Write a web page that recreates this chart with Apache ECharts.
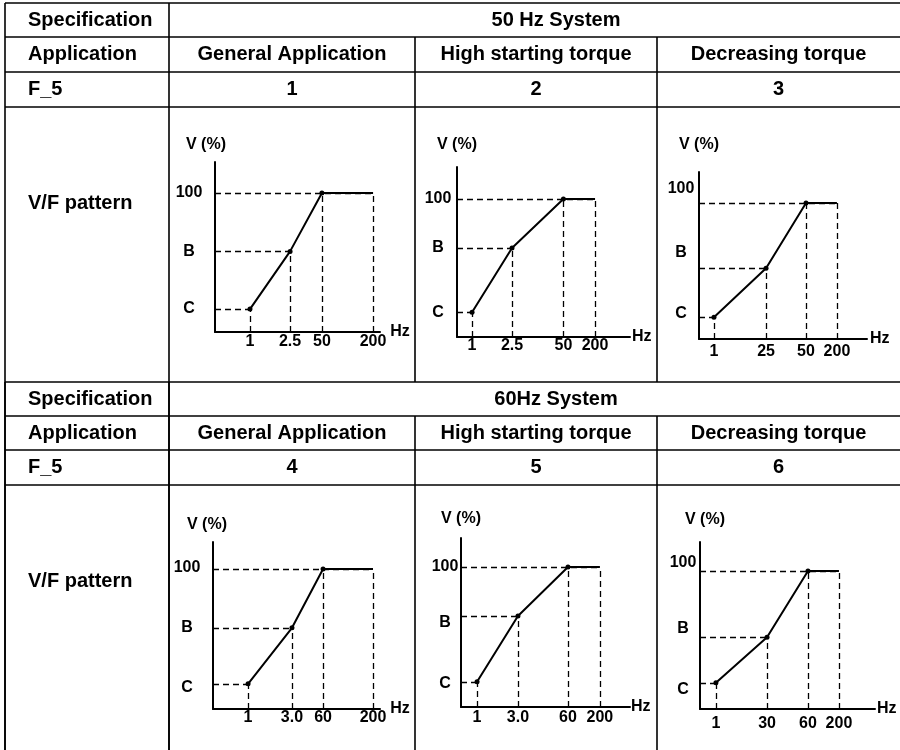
<!DOCTYPE html>
<html>
<head>
<meta charset="utf-8">
<title>V/F pattern table</title>
<script src="https://cdn.jsdelivr.net/npm/echarts@6/dist/echarts.min.js"></script>
<style>
  html, body { margin: 0; padding: 0; background: #fff; }
  #chart { width: 900px; height: 750px; }
</style>
</head>
<body>
<div id="chart"></div>
<script>
// table text
const systems = ['50 Hz System', '60Hz System'];
const applications = ['General Application', 'High starting torque', 'Decreasing torque'];
const rowHeads = ['Specification', 'Application', 'F_5', 'V/F pattern'];
const patternNo = ['1', '2', '3', '4', '5', '6'];

// break frequencies of each pattern (x tick labels)
const freqLabels = [
  ['1', '2.5', '50', '200'],
  ['1', '2.5', '50', '200'],
  ['1', '25', '50', '200'],
  ['1', '3.0', '60', '200'],
  ['1', '3.0', '60', '200'],
  ['1', '30', '60', '200']
];
// where each break sits on the (not to scale) frequency axis, 0..100
const freqAt = [
  [21.2, 45.5, 64.8, 95.8],
  [8.7, 31.8, 61.5, 79.8],
  [8.9, 39.9, 63.7, 82.1],
  [21.0, 47.3, 65.9, 95.8],
  [9.5, 33.7, 63.3, 82.2],
  [9.1, 38.3, 61.7, 79.4]
];
// voltage levels, % of rated
const levelC = [16.5, 18, 16, 18, 18, 19];
const levelB = [58, 64.5, 52, 58, 65, 52];
const levelFull = 100;
const yLabels = ['C', 'B', '100'];

// where each small chart sits inside its table cell
const cells = [
  { left: 215, top: 162, width: 165, height: 170, yMax: 122.3, yMargin: 26, xMargin: 2, nameGap: 9, nameShift: -9, hzGap: 10, lift: [0, 0, 0] },
  { left: 457, top: 167, width: 173, height: 170, yMax: 123.2, yMargin: 19, xMargin: 1, nameGap: 14, nameShift: 0, hzGap: 2, lift: [0, 0, 0] },
  { left: 699, top: 172, width: 168, height: 167, yMax: 122.8, yMargin: 18, xMargin: 5, nameGap: 19, nameShift: 0, hzGap: 3, lift: [4, 16, 14] },
  { left: 213, top: 542, width: 167, height: 167, yMax: 119.3, yMargin: 26, xMargin: 1, nameGap: 9, nameShift: -6, hzGap: 5, lift: [-4, 0, 1] },
  { left: 461, top: 538, width: 169, height: 169, yMax: 120.7, yMargin: 16, xMargin: 3, nameGap: 11, nameShift: 0, hzGap: 1, lift: [-2, -7, 0] },
  { left: 700, top: 542, width: 175, height: 167, yMax: 121.0, yMargin: 17, xMargin: 7, nameGap: 14, nameShift: 5, hzGap: 2, lift: [-7, 9, 8] }
];

const FONT = '"Liberation Sans", Arial, Helvetica, sans-serif';
const black = '#000';

// ---- table frame ----
const graphic = [];
function hLine(y, x1, x2) {
  graphic.push({ type: 'line', shape: { x1: x1, y1: y, x2: x2, y2: y }, style: { stroke: black, lineWidth: 1.6 }, silent: true });
}
function vLine(x, y1, y2) {
  graphic.push({ type: 'line', shape: { x1: x, y1: y1, x2: x, y2: y2 }, style: { stroke: black, lineWidth: 1.6 }, silent: true });
}
function cellText(text, x, y, align) {
  graphic.push({
    type: 'text', x: x, y: y, silent: true,
    style: {
      text: text, fill: black, font: 'bold 20px ' + FONT,
      align: align, verticalAlign: 'middle', textAlign: align, textVerticalAlign: 'middle'
    }
  });
}

const colX = [5, 169, 415, 657];
const colMid = [292, 536, 778.5];
const blocks = [
  { top: 3, r2: 37, r3: 72, r4: 107, end: 750, vfY: 203 },
  { top: 382, r2: 416, r3: 450, r4: 485, end: 750, vfY: 581 }
];
blocks.forEach(function (b, bi) {
  [b.top, b.r2, b.r3, b.r4].forEach(function (y) { hLine(y, colX[0], 900); });
  vLine(colX[0], b.top, b.end);
  vLine(colX[1], b.top, b.end);
  vLine(colX[2], b.r2, bi === 0 ? blocks[1].top : b.end);
  vLine(colX[3], b.r2, bi === 0 ? blocks[1].top : b.end);
  cellText(rowHeads[0], 28, (b.top + b.r2) / 2, 'left');
  cellText(rowHeads[1], 28, (b.r2 + b.r3) / 2, 'left');
  cellText(rowHeads[2], 28, (b.r3 + b.r4) / 2, 'left');
  cellText(rowHeads[3], 28, b.vfY, 'left');
  cellText(systems[bi], 556, (b.top + b.r2) / 2, 'center');
  applications.forEach(function (a, ci) {
    cellText(a, colMid[ci], (b.r2 + b.r3) / 2, 'center');
    cellText(patternNo[bi * 3 + ci], colMid[ci], (b.r3 + b.r4) / 2, 'center');
  });
});

// ---- the six V/F charts ----
const grids = [], xAxes = [], yAxes = [], series = [];
const labelStyle = { color: black, fontSize: 16, fontWeight: 'bold', fontFamily: FONT };

cells.forEach(function (c, i) {
  const volts = [levelC[i], levelB[i], levelFull, levelFull];
  const xs = freqAt[i];
  const last = xs.length - 1;

  grids.push({ left: c.left, top: c.top, width: c.width, height: c.height, containLabel: false });

  const rich = {};
  yLabels.forEach(function (lab, k) {
    const l = c.lift[k];
    rich['k' + k] = Object.assign({}, labelStyle, { padding: l >= 0 ? [0, 0, 2 * l, 0] : [-2 * l, 0, 0, 0] });
  });
  const yVals = [levelC[i], levelB[i], levelFull];

  xAxes.push({
    type: 'value', gridIndex: i, min: 0, max: 100,
    name: 'Hz', nameLocation: 'end', nameGap: c.hzGap,
    nameTextStyle: Object.assign({}, labelStyle, { align: 'left', verticalAlign: 'middle' }),
    axisLine: { show: true, lineStyle: { color: black, width: 2 } },
    axisTick: { show: false },
    splitLine: { show: false },
    axisLabel: Object.assign({}, labelStyle, {
      margin: c.xMargin,
      customValues: xs,
      formatter: function (v) {
        const k = xs.indexOf(v);
        return k >= 0 ? freqLabels[i][k] : '';
      }
    })
  });

  yAxes.push({
    type: 'value', gridIndex: i, min: 0, max: c.yMax,
    name: 'V (%)', nameLocation: 'end', nameGap: c.nameGap,
    nameTextStyle: Object.assign({}, labelStyle, {
      align: 'center', verticalAlign: 'bottom',
      padding: c.nameShift < 0 ? [0, -2 * c.nameShift, 0, 0] : [0, 0, 0, 2 * c.nameShift]
    }),
    axisLine: { show: true, lineStyle: { color: black, width: 2 } },
    axisTick: { show: false },
    splitLine: { show: false },
    axisLabel: Object.assign({}, labelStyle, {
      margin: c.yMargin,
      align: 'center',
      customValues: yVals,
      rich: rich,
      formatter: function (v) {
        const k = yVals.indexOf(v);
        return k >= 0 ? '{k' + k + '|' + yLabels[k] + '}' : '';
      }
    })
  });

  // dashed guide lines from each break point to both axes
  const guides = [];
  for (let k = 0; k < xs.length; k++) {
    guides.push([{ coord: [xs[k], 0] }, { coord: [xs[k], volts[k]] }]);
  }
  guides.push([{ coord: [0, levelC[i]] }, { coord: [xs[0], levelC[i]] }]);
  guides.push([{ coord: [0, levelB[i]] }, { coord: [xs[1], levelB[i]] }]);
  guides.push([{ coord: [0, levelFull] }, { coord: [xs[last], levelFull] }]);

  series.push({
    type: 'line', xAxisIndex: i, yAxisIndex: i,
    data: xs.map(function (x, k) { return [x, volts[k]]; }),
    symbol: 'circle',
    symbolSize: function (v, p) { return p.dataIndex === last ? 0 : 5; },
    itemStyle: { color: black },
    lineStyle: { color: black, width: 2 },
    animation: false,
    silent: true,
    z: 3,
    markLine: {
      silent: true,
      symbol: ['none', 'none'],
      label: { show: false },
      lineStyle: { color: black, width: 1.3, type: [6, 4] },
      animation: false,
      data: guides
    }
  });
});

const chart = echarts.init(document.getElementById('chart'), null, { renderer: 'canvas' });
chart.setOption({
  backgroundColor: '#fff',
  animation: false,
  grid: grids,
  xAxis: xAxes,
  yAxis: yAxes,
  series: series,
  graphic: graphic
});
</script>
</body>
</html>
